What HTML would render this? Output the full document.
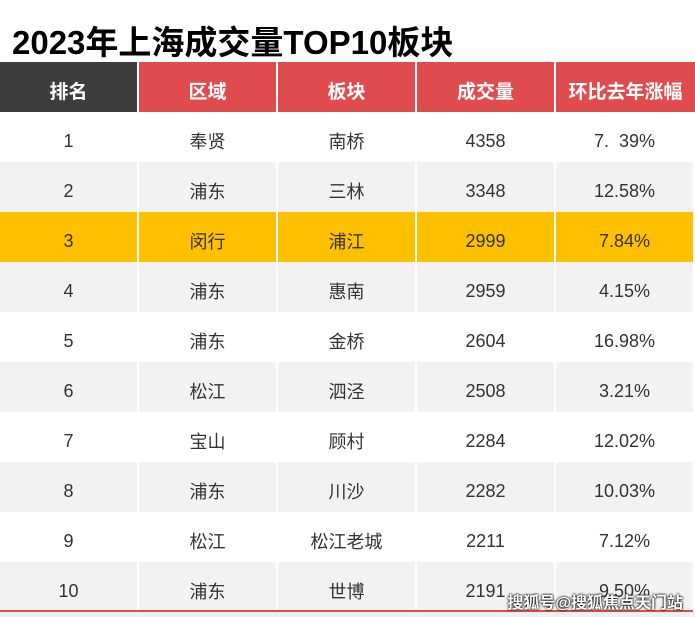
<!DOCTYPE html>
<html><head><meta charset="utf-8"><style>
body{margin:0;width:695px;height:617px;background:#fff;overflow:hidden;font-family:"Liberation Sans","Noto Sans CJK SC",sans-serif;position:relative}
.t{position:absolute;left:12px;top:16px;font-size:33px;font-weight:bold;color:#000;white-space:nowrap;transform:scaleX(1.0);transform-origin:left}
.r{position:absolute;left:0;width:695px;height:50px;display:flex}
.c{height:100%;display:flex;align-items:center;justify-content:center;font-size:18px;color:#333;margin-right:2px;box-sizing:border-box;padding-top:8px}
.h .c{color:#fff;font-weight:bold;font-size:19px;background:#e04b4e;padding-top:6px}
.h .c:first-child{background:#3d3d3d}
.w{position:absolute;right:12px;top:589px;color:#fff;font-weight:bold;font-size:16px;text-shadow:0 0 2px #000,0 0 2px #000}
</style></head><body>
<div class="t">2023年上海成交量TOP10板块</div>
<div class="r h" style="top:62px"><div class="c" style="width:137px">排名</div><div class="c" style="width:137px">区域</div><div class="c" style="width:137px">板块</div><div class="c" style="width:137px">成交量</div><div class="c" style="width:139px;margin:0">环比去年涨幅</div></div>
<div id="rows"></div>
<div style="position:absolute;left:0;top:610px;width:693px;height:2px;background:#e04b4e"></div>
<div style="position:absolute;left:0;top:612px;width:695px;height:5px;background:#f0f0f0"></div>
<div class="w">搜狐号@搜狐焦点天门站</div>
<script>
var d=[["1","奉贤","南桥","4358","7.  39%"],["2","浦东","三林","3348","12.58%"],["3","闵行","浦江","2999","7.84%"],["4","浦东","惠南","2959","4.15%"],["5","浦东","金桥","2604","16.98%"],["6","松江","泗泾","2508","3.21%"],["7","宝山","顾村","2284","12.02%"],["8","浦东","川沙","2282","10.03%"],["9","松江","松江老城","2211","7.12%"],["10","浦东","世博","2191","9.50%"]];
var h="";d.forEach(function(r,i){var bg=i==2?"#ffc000":(i%2?"#f2f2f2":"#fff");
h+='<div class="r" style="top:'+(112+i*50)+'px">';
r.forEach(function(v,j){h+='<div class="c" style="background:'+bg+';width:137px;'+(j==4?'margin:0;':'')+'">'+v.replace(/ /g,"&nbsp;")+'</div>'});
h+='</div>'});
document.getElementById("rows").innerHTML=h;
</script>
</body></html>
